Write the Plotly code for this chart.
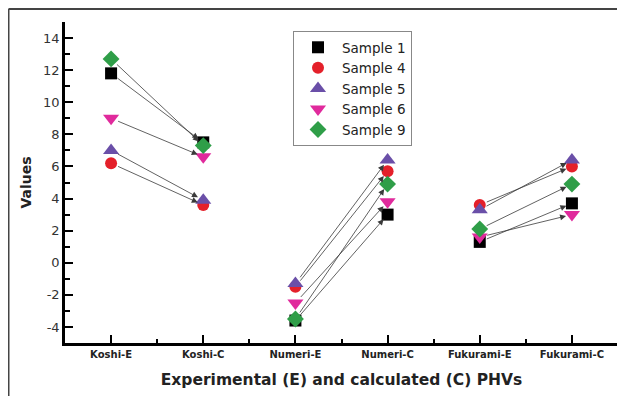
import plotly.graph_objects as go

categories = ["Koshi-E", "Koshi-C", "Numeri-E", "Numeri-C", "Fukurami-E", "Fukurami-C"]
series_names = ["Sample 1", "Sample 4", "Sample 5", "Sample 6", "Sample 9"]
sample1 = [11.8, 7.5, -3.6, 3.0, 1.3, 3.7]
sample4 = [6.2, 3.6, -1.5, 5.7, 3.6, 6.0]
sample5 = [7.0, 3.9, -1.3, 6.4, 3.3, 6.4]
sample6 = [9.0, 6.6, -2.5, 3.8, 1.6, 3.0]
sample9 = [12.7, 7.3, -3.5, 4.9, 2.1, 4.9]
pairs = [(0, 1), (2, 3), (4, 5)]
y_tickvals = [-4, -2, 0, 2, 4, 6, 8, 10, 12, 14]
y_ticktext = ["-4", "-2", "0", "2", "4", "6", "8", "10", "12", "14"]

series_values = [sample1, sample4, sample5, sample6, sample9]
colors = ["#000000", "#e4202a", "#6a4fa8", "#e02a9c", "#2f9e48"]
symbols = ["square", "circle", "triangle-up", "triangle-down", "diamond"]
sizes = [12, 12, 14, 14, 13]

xpos = list(range(len(categories)))

fig = go.Figure()
for name, vals, c, s, sz in zip(series_names, series_values, colors, symbols, sizes):
    fig.add_trace(go.Scatter(
        x=xpos, y=vals, mode="markers", name=name,
        marker=dict(symbol=s, size=sz, color=c, line=dict(width=0)),
    ))

annotations = []
for vals in series_values:
    for a, b in pairs:
        annotations.append(dict(
            x=b, y=vals[b], ax=a, ay=vals[a], xref="x", yref="y",
            axref="x", ayref="y", showarrow=True, arrowhead=2,
            arrowsize=1.5, arrowwidth=0.8, arrowcolor="#3a3a3a",
            standoff=6, startstandoff=6, text="",
        ))

# page body adds an 8px offset; figure is sized to the visible window area
W, H = 617, 388
ML, MR, MT, MB = 57, 7, 14, 53
pw, ph = W - ML - MR, H - MT - MB
top_y = (ph + MT - 1) / ph
left_x = (0.5 - ML) / pw
shapes = [
    dict(type="line", xref="paper", yref="paper", x0=left_x, x1=(W - ML) / pw,
         y0=top_y, y1=top_y, line=dict(color="#444444", width=2)),
    dict(type="line", xref="paper", yref="paper", x0=left_x, x1=left_x,
         y0=top_y, y1=-(MB + 2) / ph, line=dict(color="#444444", width=2)),
]

fig.update_layout(
    width=W, height=H,
    margin=dict(l=ML, r=MR, t=MT, b=MB, autoexpand=False),
    paper_bgcolor="white", plot_bgcolor="white",
    font=dict(family="DejaVu Sans", color="#222222"),
    annotations=annotations,
    shapes=shapes,
    legend=dict(
        x=(293 - 8 - ML) / pw, y=(ph + MT - (31 - 8)) / ph, xanchor="left", yanchor="top",
        bordercolor="#888888", borderwidth=1, bgcolor="white",
        font=dict(family="DejaVu Sans", size=13.5, color="#222222"),
        tracegroupgap=0, itemwidth=38,
    ),
    xaxis=dict(
        range=[-0.5, 5.5], tickmode="array", tickvals=xpos, ticktext=categories,
        automargin=False,
        showgrid=False, zeroline=False, showline=True, linecolor="black", linewidth=2.5,
        ticks="inside", ticklen=8, tickwidth=2, tickcolor="black",
        tickfont=dict(family="DejaVu Sans", size=10, color="#222222", weight="bold"),
        minor=dict(tickmode="linear", tick0=-0.5, dtick=0.5, ticks="inside", ticklen=4, tickwidth=2, tickcolor="black", showgrid=False),
        title=dict(text="<b>Experimental (E) and calculated (C) PHVs</b>",
                   font=dict(family="DejaVu Sans", size=15.5, color="#222222"), standoff=16),
    ),
    yaxis=dict(
        range=[-5, 15], tickmode="array", tickvals=y_tickvals, ticktext=y_ticktext,
        automargin=False,
        showgrid=False, zeroline=False, showline=True, linecolor="black", linewidth=2.5,
        ticks="inside", ticklen=8, tickwidth=2, tickcolor="black",
        tickfont=dict(family="DejaVu Sans", size=13, color="#333333"),
        minor=dict(tickmode="linear", tick0=-5, dtick=1, ticks="inside", ticklen=5, tickwidth=2, tickcolor="black", showgrid=False),
        title=dict(text="<b>Values</b>", font=dict(family="DejaVu Sans", size=14, color="#222222"), standoff=9),
    ),
)

fig.write_html("out.html")
